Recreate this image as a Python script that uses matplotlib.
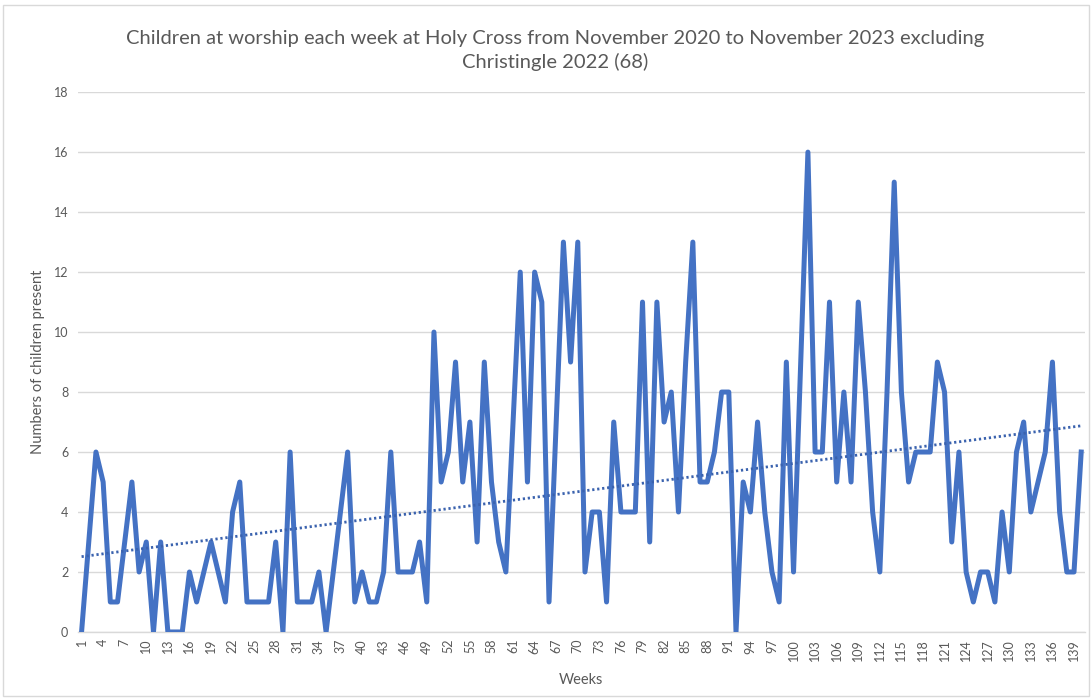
"""Weekly children's attendance line chart with linear trendline."""

import matplotlib

matplotlib.use("Agg", force=True)

import matplotlib.pyplot as plt
import numpy as np
from matplotlib.patches import Rectangle

TITLE = ("Children at worship each week at Holy Cross from November 2020 to November 2023 excluding\n"
         "Christingle 2022 (68)")
X_LABEL = "Weeks"
Y_LABEL = "Numbers of children present"

# attendance per week, weeks 1..140
children = [
    0, 3, 6, 5, 1, 1, 3, 5, 2, 3,
    0, 3, 0, 0, 0, 2, 1, 2, 3, 2,
    1, 4, 5, 1, 1, 1, 1, 3, 0, 6,
    1, 1, 1, 2, 0, 2, 4, 6, 1, 2,
    1, 1, 2, 6, 2, 2, 2, 3, 1, 10,
    5, 6, 9, 5, 7, 3, 9, 5, 3, 2,
    7, 12, 5, 12, 11, 1, 7, 13, 9, 13,
    2, 4, 4, 1, 7, 4, 4, 4, 11, 3,
    11, 7, 8, 4, 9, 13, 5, 5, 6, 8,
    8, 0, 5, 4, 7, 4, 2, 1, 9, 2,
    9, 16, 6, 6, 11, 5, 8, 5, 11, 8,
    4, 2, 8, 15, 8, 5, 6, 6, 6, 9,
    8, 3, 6, 2, 1, 2, 2, 1, 4, 2,
    6, 7, 4, 5, 6, 9, 4, 2, 2, 6,
]
weeks = list(range(1, len(children) + 1))
tick_weeks = list(range(1, len(children) + 1, 3))
y_ticks = list(range(0, 19, 2))

LINE_BLUE = "#4472C4"
TREND_BLUE = "#3A62AE"
TEXT_GREY = "#595959"
GRID_GREY = "#D9D9D9"

plt.rcParams["font.family"] = ["Lato", "DejaVu Sans"]

fig = plt.figure(figsize=(10.92, 6.98), dpi=100)
ax = fig.add_axes([0.0714, 0.0946, 0.922, 0.7734])

x = np.asarray(weeks, dtype=float)
y = np.asarray(children, dtype=float)
ax.plot(x, y, color=LINE_BLUE, linewidth=3.6, solid_joinstyle="round", zorder=3)

# Excel-style linear trendline
slope, intercept = np.polyfit(x, y, 1)
ax.plot(x, slope * x + intercept, color=TREND_BLUE, linewidth=2.0,
        linestyle=(0, (0.8, 1.0)), zorder=4)

ax.set_xlim(0.5, len(children) + 0.5)
ax.set_ylim(0, 18)
ax.set_yticks(y_ticks)
ax.set_xticks(tick_weeks)
ax.set_xticklabels([str(w) for w in tick_weeks], rotation=90)
ax.tick_params(axis="both", length=0, colors=TEXT_GREY, labelsize=9)
ax.tick_params(axis="y", pad=7)
ax.tick_params(axis="x", pad=5)

ax.grid(axis="y", color=GRID_GREY, linewidth=1.0)
ax.set_axisbelow(True)
for side in ("top", "right", "left"):
    ax.spines[side].set_visible(False)
ax.spines["bottom"].set_color(GRID_GREY)
ax.spines["bottom"].set_linewidth(1.0)

ax.set_xlabel(X_LABEL, color=TEXT_GREY, fontsize=10.5, labelpad=9)
ax.set_ylabel(Y_LABEL, color=TEXT_GREY, fontsize=10.5, labelpad=6)

fig.text(0.508, 0.927, TITLE, ha="center", va="center", fontsize=14.5,
         color=TEXT_GREY, linespacing=1.4)

fig.patches.append(Rectangle((0.003, 0.003), 0.994, 0.99, transform=fig.transFigure,
                             fill=False, edgecolor=GRID_GREY, linewidth=1.0))

fig.savefig("out.png", dpi=100)
plt.close(fig)
